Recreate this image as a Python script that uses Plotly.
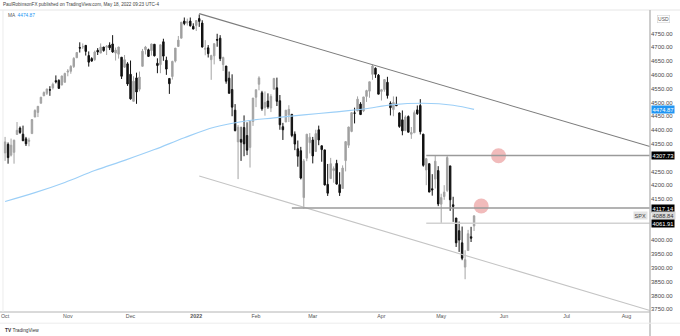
import pandas as pd
import plotly.graph_objects as go

# ---- S&P 500 (SPX) daily bars, 1 Oct 2021 -> 17 May 2022 ----
market_holidays = ["2021-11-25", "2021-12-24", "2022-01-17", "2022-02-21",
                   "2022-04-15", "2022-05-30", "2022-06-20", "2022-07-04"]
sessions = pd.bdate_range("2021-10-01", "2022-08-31", freq="C", holidays=market_holidays)

open_ = [
    # Oct
    4317, 4348, 4309, 4319, 4384, 4407, 4385, 4368, 4359, 4387, 4447, 4464, 4497, 4524, 4533, 4546, 4553, 4579, 4580, 4563, 4573,
    # Nov
    4610, 4613, 4630, 4662, 4699, 4702, 4707, 4670, 4659, 4655, 4689, 4679, 4701, 4700, 4708, 4712, 4679, 4675, 4664, 4628, 4640,
    # Dec
    4602, 4504, 4589, 4548, 4631, 4691, 4691, 4688, 4711, 4642, 4637, 4720, 4653, 4587, 4594, 4650, 4703, 4733, 4795, 4788, 4795, 4776,
    # Jan
    4779, 4804, 4788, 4693, 4698, 4655, 4669, 4728, 4733, 4637, 4632, 4588, 4547, 4472, 4357, 4366, 4409, 4380, 4337, 4431,
    # Feb
    4519, 4566, 4535, 4482, 4505, 4480, 4548, 4553, 4506, 4412, 4429, 4455, 4457, 4385, 4332, 4325, 4155, 4298, 4354,
    # Mar
    4364, 4322, 4401, 4343, 4328, 4203, 4224, 4253, 4279, 4202, 4188, 4289, 4345, 4395, 4462, 4469, 4494, 4469, 4522, 4541, 4602, 4624, 4599,
    # Apr
    4540, 4547, 4573, 4497, 4474, 4494, 4462, 4437, 4398, 4449, 4385, 4390, 4473, 4489, 4385, 4255, 4278, 4187, 4222, 4253,
    # May
    4131, 4159, 4181, 4270, 4129, 4081, 4035, 3991, 3903, 3963, 4013, 4052,
]
high = [
    4375, 4355, 4369, 4365, 4429, 4413, 4416, 4375, 4372, 4439, 4475, 4487, 4520, 4540, 4549, 4559, 4572, 4598, 4584, 4597, 4608,
    4621, 4635, 4664, 4683, 4718, 4714, 4708, 4685, 4664, 4688, 4697, 4714, 4701, 4708, 4718, 4744, 4699, 4702, 4664, 4672, 4646,
    4652, 4595, 4608, 4612, 4694, 4705, 4695, 4713, 4711, 4660, 4710, 4731, 4666, 4587, 4651, 4697, 4741, 4791, 4808, 4804, 4808, 4787,
    4797, 4819, 4798, 4726, 4708, 4673, 4714, 4749, 4744, 4666, 4632, 4612, 4602, 4494, 4418, 4412, 4453, 4428, 4432, 4516,
    4546, 4595, 4542, 4540, 4533, 4530, 4589, 4590, 4527, 4426, 4472, 4490, 4457, 4395, 4362, 4339, 4295, 4385, 4389,
    4375, 4401, 4416, 4343, 4328, 4277, 4299, 4268, 4292, 4247, 4272, 4358, 4412, 4465, 4481, 4522, 4501, 4520, 4546, 4575, 4637, 4627, 4603,
    4549, 4583, 4593, 4504, 4522, 4521, 4464, 4471, 4453, 4453, 4411, 4471, 4489, 4512, 4386, 4299, 4278, 4240, 4308, 4269,
    4169, 4200, 4308, 4270, 4158, 4081, 4068, 4050, 3964, 4038, 4049, 4090,
]
low = [
    4288, 4278, 4304, 4278, 4384, 4386, 4361, 4342, 4341, 4387, 4447, 4447, 4497, 4524, 4527, 4524, 4547, 4569, 4551, 4563, 4573,
    4595, 4604, 4625, 4662, 4681, 4694, 4670, 4630, 4648, 4651, 4672, 4679, 4684, 4672, 4690, 4680, 4652, 4659, 4585, 4625, 4560,
    4510, 4504, 4495, 4540, 4631, 4674, 4665, 4670, 4667, 4606, 4606, 4651, 4600, 4531, 4583, 4645, 4703, 4733, 4780, 4779, 4775, 4766,
    4759, 4774, 4699, 4671, 4663, 4582, 4638, 4702, 4650, 4614, 4568, 4533, 4450, 4395, 4222, 4288, 4305, 4309, 4264, 4415,
    4483, 4544, 4470, 4452, 4477, 4465, 4548, 4487, 4401, 4364, 4429, 4429, 4374, 4327, 4267, 4221, 4115, 4287, 4315,
    4279, 4322, 4345, 4285, 4199, 4161, 4224, 4209, 4202, 4161, 4187, 4250, 4335, 4392, 4424, 4469, 4455, 4465, 4502, 4517, 4582, 4589, 4530,
    4507, 4539, 4514, 4453, 4450, 4487, 4408, 4381, 4396, 4392, 4368, 4390, 4455, 4384, 4267, 4200, 4175, 4162, 4188, 4124,
    4063, 4147, 4175, 4107, 4067, 3976, 3958, 3928, 3859, 3963, 3994, 4034,
]
close = [
    4357, 4300, 4345, 4363, 4399, 4391, 4361, 4350, 4363, 4438, 4471, 4486, 4519, 4536, 4549, 4545, 4566, 4575, 4551, 4596, 4605,
    4614, 4631, 4660, 4681, 4697, 4702, 4685, 4646, 4650, 4683, 4683, 4701, 4688, 4704, 4698, 4683, 4690, 4701, 4595, 4655, 4567,
    4513, 4577, 4538, 4592, 4686, 4701, 4667, 4712, 4669, 4634, 4709, 4668, 4621, 4568, 4649, 4697, 4726, 4791, 4786, 4793, 4778, 4766,
    4797, 4794, 4701, 4696, 4677, 4670, 4713, 4726, 4659, 4663, 4577, 4533, 4483, 4398, 4410, 4356, 4350, 4327, 4432, 4516,
    4546, 4589, 4477, 4500, 4484, 4522, 4587, 4504, 4419, 4401, 4472, 4475, 4380, 4349, 4305, 4226, 4288, 4385, 4374,
    4306, 4387, 4364, 4329, 4201, 4171, 4278, 4260, 4204, 4173, 4262, 4358, 4411, 4463, 4461, 4512, 4456, 4520, 4543, 4575, 4632, 4602, 4530,
    4546, 4583, 4525, 4481, 4500, 4488, 4413, 4397, 4447, 4392, 4391, 4463, 4459, 4394, 4272, 4296, 4175, 4183, 4287, 4132,
    4155, 4175, 4300, 4147, 4123, 3991, 4001, 3935, 3930, 4024, 4008, 4088.84,
]

# 200-day simple moving average, sampled along the bar index
ma_bar = [0, 10, 20, 30, 40, 50, 60, 70, 80, 90, 100, 110, 120, 130, 140, 150, 157]
ma_val = [4141, 4173, 4210, 4253, 4290, 4329, 4372, 4410, 4432, 4444, 4455, 4465, 4476, 4492, 4497, 4490, 4474.87]

# Horizontal levels: (first bar, price, colour)
levels = [(141, 4307.73, "#9a9a9a"), (96, 4117.14, "#9a9a9a"), (141, 4061.91, "#d2d2d2")]
# Descending channel: (bar, price) end points
channel_upper = [(65, 4822), (215.9, 4340)]
channel_lower = [(65, 4233), (215.9, 3745.5)]
# Highlighted resistance zones
zone_bar = [165.2, 159.4]
zone_price = [4307, 4124.5]

month_labels = ["Oct", "Nov", "Dec", "<b>2022</b>", "Feb", "Mar", "Apr", "May", "Jun", "Jul", "Aug"]
# price scale labels (levels sitting under the price tags are left out)
price_ticks = [3750, 3800, 3850, 3900, 3950, 4000, 4150, 4200, 4250, 4350, 4400,
               4450, 4500, 4550, 4600, 4650, 4700, 4750]

n = len(close)
bars = list(range(n))
month_pos = []
seen = set()
for i, d in enumerate(sessions):
    key = (d.year, d.month)
    if key not in seen:
        seen.add(key)
        month_pos.append(i)

X_RANGE = [-1.7, 215.9]
Y_RANGE = [3740.2, 4835.2]
FONT = "Liberation Sans, Arial, sans-serif"

fig = go.Figure()

fig.add_trace(go.Scatter(
    x=ma_bar, y=ma_val, mode="lines",
    line=dict(color="#9ccff7", width=1.1, shape="spline", smoothing=1.0),
    hoverinfo="skip", showlegend=False))

fig.add_trace(go.Candlestick(
    x=bars, open=open_, high=high, low=low, close=close,
    increasing=dict(line=dict(color="#a4a4a4", width=1), fillcolor="#9c9c9c"),
    decreasing=dict(line=dict(color="#111111", width=1), fillcolor="#111111"),
    whiskerwidth=0, showlegend=False))

fig.add_trace(go.Scatter(
    x=zone_bar, y=zone_price, mode="markers",
    marker=dict(size=15, color="rgba(226,112,112,0.48)", line=dict(width=0)),
    hoverinfo="skip", showlegend=False))

shapes = []
for (x0, y0), (x1, y1), col in [(channel_upper[0], channel_upper[1], "#7c7c7c"),
                                 (channel_lower[0], channel_lower[1], "#c4c4c4")]:
    shapes.append(dict(type="line", xref="x", yref="y", x0=x0, y0=y0, x1=x1, y1=y1,
                       line=dict(color=col, width=1.1)))
for b0, p, col in levels:
    shapes.append(dict(type="line", xref="x", yref="y", x0=b0, x1=X_RANGE[1], y0=p, y1=p,
                       line=dict(color=col, width=1.4)))

# frame lines
shapes += [
    dict(type="line", xref="paper", yref="paper", x0=0, x1=1.05, y0=1, y1=1,
         line=dict(color="#e6e6e6", width=1)),
    dict(type="line", xref="paper", yref="paper", x0=0, x1=1, y0=0, y1=0,
         line=dict(color="#b4b4b4", width=1)),
    dict(type="line", xref="paper", yref="paper", x0=1, x1=1, y0=-0.08, y1=1,
         line=dict(color="#bdbdbd", width=1.5)),
    dict(type="line", xref="paper", yref="paper", x0=0, x1=1.05, y0=-0.037, y1=-0.037,
         line=dict(color="#ececec", width=1)),
    dict(type="line", xref="paper", yref="paper", x0=0.0046, x1=0.0046, y0=0, y1=1,
         line=dict(color="#ececec", width=1)),
]

ann = []


def tag(price, text, bg, fg):
    ann.append(dict(xref="paper", yref="y", x=1, y=price, xanchor="left", yanchor="middle",
                    xshift=1, text=text, showarrow=False, bgcolor=bg, borderpad=0.6,
                    font=dict(family=FONT, size=5.8, color=fg)))


tag(4474.87, "4474.87", "#2196f3", "#ffffff")
tag(4307.73, "4307.73", "#000000", "#ffffff")
tag(4117.14, "4117.14", "#000000", "#ffffff")
tag(4088.84, "4088.84", "#d9d9d9", "#333333")
tag(4061.91, "4061.91", "#000000", "#ffffff")
ann.append(dict(xref="paper", yref="y", x=1, y=4088.84, xanchor="right", yanchor="middle",
                xshift=-2, text="SPX", showarrow=False, bgcolor="#e3e3e3", borderpad=0.6,
                font=dict(family=FONT, size=5.5, color="#444444")))
ann.append(dict(xref="paper", yref="y", x=1, y=4801, xanchor="left", yanchor="middle",
                xshift=7, text="USD", showarrow=False, bgcolor="#ffffff", bordercolor="#d0d0d0",
                borderwidth=0.6, borderpad=0.5, font=dict(family=FONT, size=5, color="#555555")))
ann.append(dict(xref="paper", yref="paper", x=0, y=1, xanchor="left", yanchor="middle",
                xshift=1, yshift=6, showarrow=False,
                text="PaulRobinsonFX published on TradingView.com, May 18, 2022 09:23 UTC-4",
                font=dict(family=FONT, size=4.6, color="#444444")))
ann.append(dict(xref="paper", yref="paper", x=0, y=1, xanchor="left", yanchor="middle",
                xshift=6, yshift=-5, showarrow=False,
                text="MA  <span style='color:#2196f3'>4474.87</span>",
                font=dict(family=FONT, size=4.8, color="#555555")))
ann.append(dict(xref="paper", yref="paper", x=0, y=0, xanchor="left", yanchor="middle",
                xshift=3, yshift=-18, showarrow=False,
                text="<b>TV</b> TradingView",
                font=dict(family=FONT, size=4.8, color="#333333")))

fig.update_layout(
    width=680, height=336,
    margin=dict(l=0, r=30, t=10, b=24),
    paper_bgcolor="#ffffff", plot_bgcolor="#ffffff",
    shapes=shapes, annotations=ann,
    xaxis=dict(range=X_RANGE, rangeslider=dict(visible=False), showgrid=False, zeroline=False,
               showline=False, ticks="", tickmode="array",
               tickvals=month_pos[:len(month_labels)], ticktext=month_labels,
               tickfont=dict(family=FONT, size=5.3, color="#555555")),
    yaxis=dict(range=Y_RANGE, side="right", showgrid=False, zeroline=False, showline=False,
               ticks="", tickmode="array", tickvals=price_ticks,
               ticktext=[f"{v:.2f}" for v in price_ticks],
               tickfont=dict(family=FONT, size=6, color="#4a4a4a")),
    hovermode=False,
)

fig.write_html("out.html")
